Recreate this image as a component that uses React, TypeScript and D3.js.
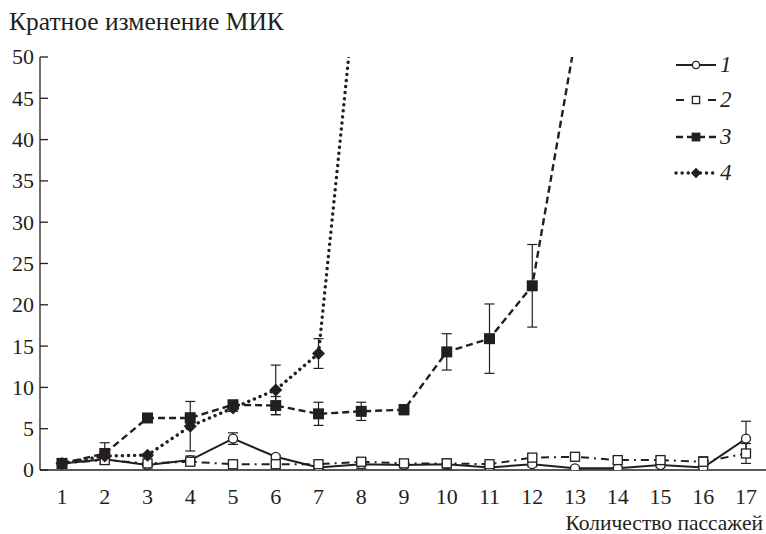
import React, { useEffect, useRef } from 'react';
import * as d3 from 'd3';

// passages 1..17
const passages = [1, 2, 3, 4, 5, 6, 7, 8, 9, 10, 11, 12, 13, 14, 15, 16, 17];
const yTicks = [0, 5, 10, 15, 20, 25, 30, 35, 40, 45, 50];

// fold change of MIC, mean and error
const series1 = [0.8, 1.3, 0.6, 1.2, 3.8, 1.6, 0.3, 0.7, 0.6, 0.7, 0.3, 0.7, 0.2, 0.2, 0.6, 0.3, 3.8];
const series1Err = [0.5, 0.6, 0.2, 0.5, 0.7, 0.2, 0.2, 0.5, 0.6, 0.6, 0.3, 0.3, 0.2, 0.2, 0.3, 0.3, 2.1];
const series2 = [0.8, 1.2, 0.8, 1.0, 0.7, 0.7, 0.7, 1.0, 0.8, 0.8, 0.7, 1.5, 1.6, 1.2, 1.2, 1.0, 2.0];
const series2Err = [0.3, 0.4, 0.3, 0.4, 0.3, 0.3, 0.3, 0.4, 0.4, 0.5, 0.3, 0.3, 0.3, 0.4, 0.4, 0.6, 1.2];
const series3 = [0.8, 2.0, 6.3, 6.3, 7.9, 7.8, 6.8, 7.1, 7.3, 14.3, 15.9, 22.3, 52];
const series3Err = [0.5, 1.3, 0, 0.6, 0.4, 1.1, 1.4, 1.1, 0.6, 2.2, 4.2, 5.0, 0];
const series4 = [0.8, 1.7, 1.8, 5.3, 7.5, 9.7, 14.1, 65];
const series4Err = [0.3, 0.3, 0.2, 3.0, 0.4, 3.0, 1.8, 0];

const legendLabels = ['1', '2', '3', '4'];

const W = 766;
const H = 534;
const INK = '#231f20';
const FONT = 'Liberation Serif, Times New Roman, Tinos, DejaVu Serif, Noto Serif, serif';

const App: React.FC = () => {
  const ref = useRef<SVGSVGElement | null>(null);

  useEffect(() => {
    const svg = d3.select(ref.current);
    svg.selectAll('*').remove();

    const x = d3.scaleLinear().domain([1, 17]).range([62, 746]);
    const y = d3.scaleLinear().domain([0, 50]).range([470, 57]);
    const axisX = 40;

    svg
      .append('defs')
      .append('clipPath')
      .attr('id', 'plot-clip')
      .append('rect')
      .attr('x', axisX)
      .attr('y', y(50))
      .attr('width', W - axisX)
      .attr('height', y(0) - y(50));

    // y axis
    const yAxis = svg.append('g').attr('transform', `translate(${axisX},0)`);
    yAxis
      .append('line')
      .attr('y1', y(50))
      .attr('y2', y(0))
      .attr('stroke', INK)
      .attr('stroke-width', 1.3);
    yAxis
      .selectAll('.tick')
      .data(yTicks)
      .enter()
      .append('line')
      .attr('x1', 0)
      .attr('x2', 8)
      .attr('y1', (d) => y(d))
      .attr('y2', (d) => y(d))
      .attr('stroke', INK)
      .attr('stroke-width', 1.3);
    yAxis
      .selectAll('.lbl')
      .data(yTicks)
      .enter()
      .append('text')
      .attr('x', -6)
      .attr('y', (d) => y(d))
      .attr('dy', '0.34em')
      .attr('text-anchor', 'end')
      .style('font-family', FONT)
      .attr('font-size', 22)
      .attr('fill', INK)
      .text((d) => d);

    // x axis
    svg
      .append('line')
      .attr('x1', axisX)
      .attr('x2', W)
      .attr('y1', y(0))
      .attr('y2', y(0))
      .attr('stroke', INK)
      .attr('stroke-width', 1.3);
    svg
      .selectAll('.xlbl')
      .data(passages)
      .enter()
      .append('text')
      .attr('x', (d) => x(d))
      .attr('y', y(0) + 34)
      .attr('text-anchor', 'middle')
      .style('font-family', FONT)
      .attr('font-size', 22)
      .attr('fill', INK)
      .text((d) => d);

    svg
      .append('text')
      .attr('x', 9)
      .attr('y', 30)
      .style('font-family', FONT)
      .attr('font-size', 25.5)
      .attr('fill', INK)
      .text('Кратное изменение МИК');

    svg
      .append('text')
      .attr('x', 763)
      .attr('y', y(0) + 60)
      .attr('text-anchor', 'end')
      .style('font-family', FONT)
      .attr('font-size', 21.5)
      .attr('fill', INK)
      .text('Количество пассажей');

    const all = [
      { vals: series1, err: series1Err, dash: null, marker: 'circle-open', width: 2 },
      { vals: series2, err: series2Err, dash: '8,5,2,5', marker: 'square-open', width: 2 },
      { vals: series3, err: series3Err, dash: '7,4', marker: 'square', width: 2.4 },
      { vals: series4, err: series4Err, dash: '0.1,6', marker: 'diamond', width: 3.4 },
    ];

    const plot = svg.append('g').attr('clip-path', 'url(#plot-clip)');

    // error bars
    all.forEach((s) => {
      s.vals.forEach((v, i) => {
        const e = s.err[i];
        if (!e || v > 50) return;
        const cx = x(passages[i]);
        const g = plot.append('g').attr('stroke', INK).attr('stroke-width', 1.2);
        g.append('line').attr('x1', cx).attr('x2', cx).attr('y1', y(v + e)).attr('y2', y(Math.max(0, v - e)));
        g.append('line').attr('x1', cx - 5).attr('x2', cx + 5).attr('y1', y(v + e)).attr('y2', y(v + e));
        if (v - e > 0) g.append('line').attr('x1', cx - 5).attr('x2', cx + 5).attr('y1', y(v - e)).attr('y2', y(v - e));
      });
    });

    const line = d3
      .line<number>()
      .x((_, i) => x(passages[i]))
      .y((d) => y(d));

    const drawMarker = (g: any, kind: string, cx: number, cy: number, scale = 1) => {
      if (kind === 'circle-open') {
        g.append('circle').attr('cx', cx).attr('cy', cy).attr('r', 4.5 * scale).attr('fill', '#fff').attr('stroke', INK).attr('stroke-width', 1.3);
      } else if (kind === 'square-open') {
        const s = 9 * scale;
        g.append('rect').attr('x', cx - s / 2).attr('y', cy - s / 2).attr('width', s).attr('height', s).attr('fill', '#fff').attr('stroke', INK).attr('stroke-width', 1.3);
      } else if (kind === 'square') {
        const s = 11 * scale;
        g.append('rect').attr('x', cx - s / 2).attr('y', cy - s / 2).attr('width', s).attr('height', s).attr('fill', INK);
      } else {
        const r = 6.5 * scale;
        g.append('path')
          .attr('d', `M${cx},${cy - r}L${cx + r},${cy}L${cx},${cy + r}L${cx - r},${cy}Z`)
          .attr('fill', INK);
      }
    };

    all.forEach((s) => {
      plot
        .append('path')
        .datum(s.vals)
        .attr('d', line)
        .attr('fill', 'none')
        .attr('stroke', INK)
        .attr('stroke-width', s.width)
        .attr('stroke-linecap', s.marker === 'diamond' ? 'round' : 'butt')
        .attr('stroke-dasharray', s.dash);
    });

    all.forEach((s) => {
      s.vals.forEach((v, i) => {
        if (v > 50) return;
        drawMarker(plot, s.marker, x(passages[i]), y(v));
      });
    });

    // legend
    const legY = [65, 100, 137, 173];
    all.forEach((s, i) => {
      const g = svg.append('g');
      g.append('line')
        .attr('x1', 676)
        .attr('x2', 716)
        .attr('y1', legY[i])
        .attr('y2', legY[i])
        .attr('stroke', INK)
        .attr('stroke-width', s.width)
        .attr('stroke-linecap', s.marker === 'diamond' ? 'round' : 'butt')
        .attr('stroke-dasharray', i === 1 ? '8,8' : s.dash);
      if (i === 1) {
        g.append('rect').attr('x', 690).attr('y', legY[i] - 5).attr('width', 12).attr('height', 10).attr('fill', '#fff');
      }
      drawMarker(g, s.marker, 696, legY[i], 0.8);
      g.append('text')
        .attr('x', 720)
        .attr('y', legY[i] + 7)
        .style('font-family', FONT)
        .attr('font-style', 'italic')
        .attr('font-size', 23)
        .attr('fill', INK)
        .text(legendLabels[i]);
    });
  }, []);

  return <svg ref={ref} width={W} height={H} style={{ position: 'absolute', left: 0, top: 0, background: '#fff' }} />;
};

export default App;
